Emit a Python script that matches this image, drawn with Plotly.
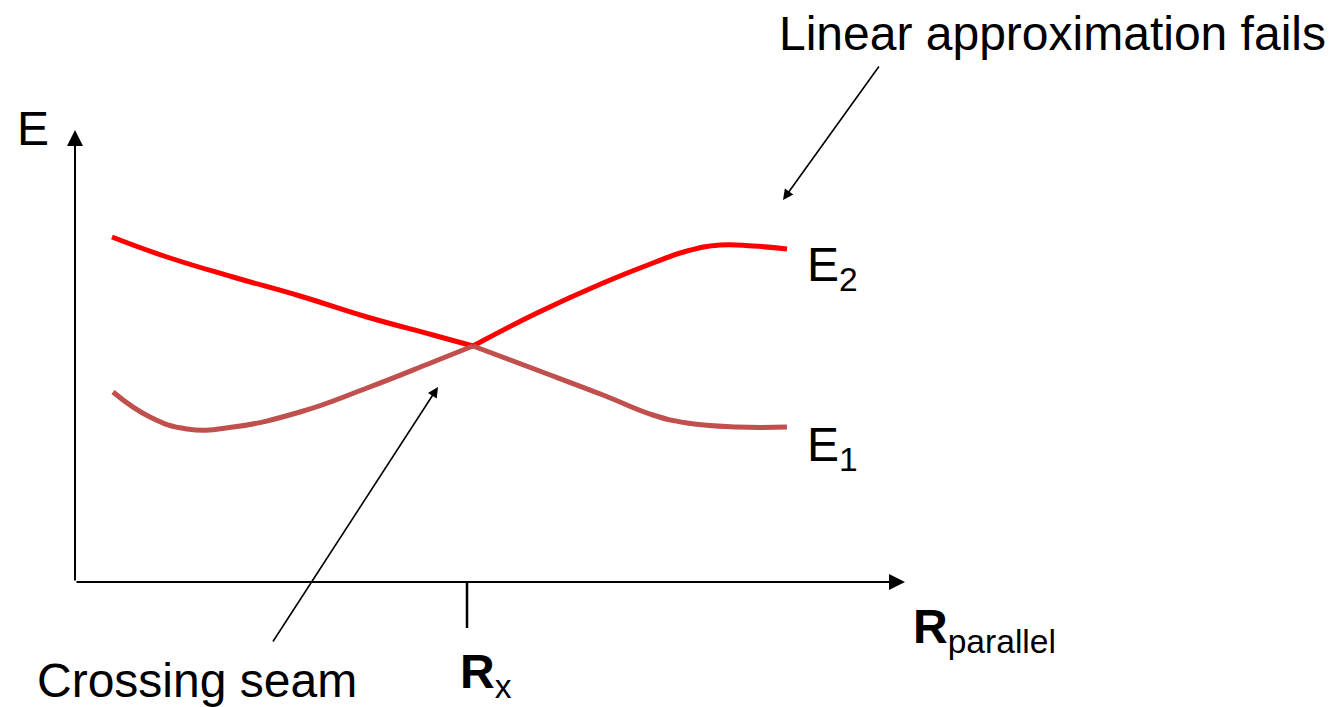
import plotly.graph_objects as go

# Reaction coordinate (R_parallel) samples and adiabatic energies, split at the crossing seam
r_left = [0.37, 0.92, 1.58, 2.25, 2.92, 3.58, 3.98]
e2_left = [3.45, 3.25, 3.05, 2.86, 2.65, 2.47, 2.36]
r_right_e2 = [3.98, 4.62, 5.28, 5.78, 6.12, 6.45, 6.78, 7.12]
e2_right = [2.36, 2.69, 2.99, 3.19, 3.31, 3.37, 3.36, 3.33]

r_left_e1 = [0.38, 0.75, 1.12, 1.58, 2.25, 2.92, 3.58, 3.98]
e1_left = [1.90, 1.65, 1.53, 1.55, 1.70, 1.94, 2.20, 2.36]
r_right_e1 = [3.98, 4.62, 5.28, 5.78, 6.12, 6.62, 7.12]
e1_right = [2.36, 2.12, 1.87, 1.67, 1.59, 1.55, 1.55]

r_cross = 3.92  # position of the R_x tick
axis_x_max = 8.30
axis_y_max = 4.52

E2_COLOR = "#FF0000"
E1_COLOR = "#C0504D"
FONT = "Liberation Sans, Arial, sans-serif"

fig = go.Figure()
for xs, ys, col in [
    (r_left, e2_left, E2_COLOR),
    (r_right_e2, e2_right, E2_COLOR),
    (r_left_e1, e1_left, E1_COLOR),
    (r_right_e1, e1_right, E1_COLOR),
]:
    fig.add_trace(go.Scatter(
        x=xs, y=ys, mode="lines",
        line=dict(color=col, width=5, shape="spline", smoothing=1.3),
        hoverinfo="skip", showlegend=False,
    ))

ann = []
# axes drawn as arrows from the origin
ann.append(dict(x=0, y=axis_y_max, ax=0, ay=0, xref="x", yref="y", axref="x", ayref="y",
                text="", showarrow=True, arrowhead=2, arrowsize=1.6, arrowwidth=2,
                arrowcolor="black", standoff=0, startstandoff=0))
ann.append(dict(x=axis_x_max, y=0, ax=0, ay=0, xref="x", yref="y", axref="x", ayref="y",
                text="", showarrow=True, arrowhead=2, arrowsize=1.6, arrowwidth=2,
                arrowcolor="black", standoff=0, startstandoff=0))
# pointer arrows
ann.append(dict(x=7.08, y=3.82, ax=8.05, ay=5.17, xref="x", yref="y", axref="x", ayref="y",
                text="", showarrow=True, arrowhead=2, arrowsize=1.3, arrowwidth=1.6,
                arrowcolor="black", standoff=0))
ann.append(dict(x=3.63, y=1.95, ax=1.97, ay=-0.61, xref="x", yref="y", axref="x", ayref="y",
                text="", showarrow=True, arrowhead=2, arrowsize=1.3, arrowwidth=1.6,
                arrowcolor="black", standoff=0))

def label(x, y, text, xanchor="left", yanchor="middle", size=48):
    ann.append(dict(x=x, y=y, xref="x", yref="y", text=text, showarrow=False,
                    xanchor=xanchor, yanchor=yanchor,
                    font=dict(family=FONT, size=size, color="black")))

label(-0.60, 4.54, "E")
label(7.30, 3.14, "E<sub>2</sub>")
label(7.30, 1.34, "E<sub>1</sub>")
label(3.83, -0.93, "<b>R</b><sub>x</sub>")
label(8.36, -0.48, "<b>R</b><sub>parallel</sub>")
label(9.77, 5.49, "Linear approximation fails", xanchor="center")
label(1.22, -0.98, "Crossing seam", xanchor="center")

fig.update_layout(
    width=1329, height=707,
    margin=dict(l=0, r=0, t=0, b=0),
    paper_bgcolor="white", plot_bgcolor="white",
    xaxis=dict(range=[-0.75, 12.54], visible=False, fixedrange=True),
    yaxis=dict(range=[-1.25, 5.82], visible=False, fixedrange=True),
    annotations=ann,
    shapes=[dict(type="line", xref="x", yref="y", x0=r_cross, x1=r_cross, y0=0, y1=-0.46,
                 line=dict(color="black", width=2.5))],
)

fig.write_html("out.html")
